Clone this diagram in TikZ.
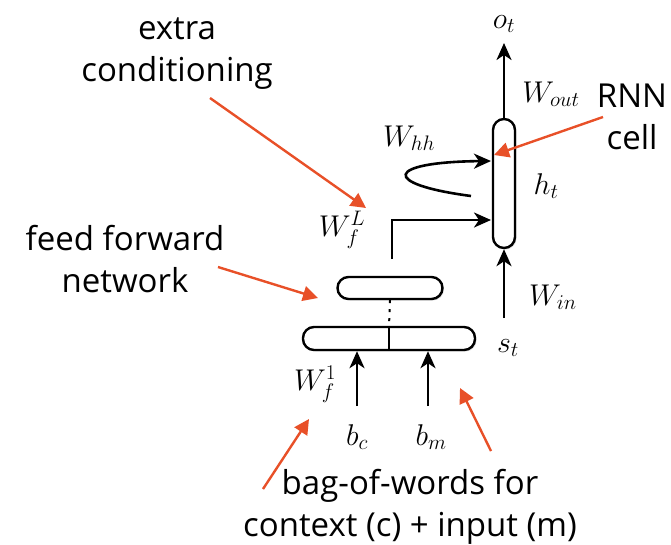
\RequirePackage{fix-cm}
\documentclass[tikz,border=0pt]{standalone}
\usepackage{amsmath}
\usepackage{fontspec}
\setsansfont{Open Sans}
\usetikzlibrary{arrows.meta,positioning,calc,shadows}
\definecolor{annot}{RGB}{232,80,40}

\begin{document}
\begin{tikzpicture}[x=1pt, y=-1pt,
  cellbox/.style={rectangle, draw=black, fill=white, line width=2.4pt,
    rounded corners=11pt, inner sep=0pt,
    drop shadow={opacity=0.25, shadow xshift=1.5pt, shadow yshift=-1.5pt}},
  arrow/.style={-{Stealth[length=17pt, width=15pt, inset=5pt]}, line width=2.6pt},
  redarrow/.style={-{Triangle[length=15pt, width=15pt]}, line width=2.4pt, draw=annot, fill=annot},
  mlabel/.style={font=\fontsize{30}{34}\selectfont, inner sep=1pt},
  note/.style={font=\sffamily\fontsize{33}{42}\selectfont, align=center, inner sep=0pt},
]
\useasboundingbox (0,0) rectangle (671,544);

%% ── RNN cell ──
\node[cellbox, minimum width=22pt, minimum height=129pt] (cell) at (504,183.5) {};
%% ── Feed forward layers ──
\node[cellbox, minimum width=105pt, minimum height=22pt] (fftop) at (390,288) {};
\node[cellbox, minimum width=172pt, minimum height=23pt] (ffbot) at (389,338.5) {};
\draw[line width=2.2pt] (ffbot.north) -- (ffbot.south);
\draw[line width=2pt, dash pattern=on 3pt off 6pt] (fftop.south) -- (ffbot.north);

%% ── Math labels ──
\node[mlabel] (ot)   at (504,24)  {$o_t$};
\node[mlabel] (wout) at (551,94)  {$W_{out}$};
\node[mlabel] (whh)  at (409,138) {$W_{hh}$};
\node[mlabel] (ht)   at (546,186) {$h_t$};
\node[mlabel] (wfl)  at (342,230) {$W_f^L$};
\node[mlabel] (win)  at (553,297) {$W_{in}$};
\node[mlabel] (st)   at (508,348) {$s_t$};
\node[mlabel] (wf1)  at (315,384) {$W_f^1$};
\node[mlabel] (bc)   at (357,437) {$b_c$};
\node[mlabel] (bm)   at (431,437) {$b_m$};

%% ── Helper coordinates ──
\coordinate (otin)   at (504,43);
\coordinate (loopa)  at (471,196);
\coordinate (hhin)   at (491,161);
\coordinate (ffout)  at (392,259);
\coordinate (ffin)   at (491,220);
\coordinate (stout)  at (504,318);
\coordinate (bcout)  at (357,406);
\coordinate (bmout)  at (428,406);

%% ── Black arrows ──
\draw[arrow] (cell.north) -- (otin);
\draw[arrow] (loopa) .. controls (380,184) and (385,162) .. (hhin);
\draw[arrow] (ffout) |- (ffin);
\draw[arrow] (stout) -- (cell.south);
\draw[arrow] (bcout) -- (bcout |- ffbot.south);
\draw[arrow] (bmout) -- (bmout |- ffbot.south);

%% ── Annotations ──
\node[note] (extra) at (177,54)  {extra\\conditioning};
\node[note] (ffn)   at (125,259) {feed forward\\network};
\node[note] (rnn)   at (632,117) {RNN\\cell};
\node[note] (bow)   at (410,507) {bag-of-words for\\context (c) + input (m)};

\coordinate (extratip) at (366,208);
\coordinate (ffntip)   at (318,298);
\coordinate (rnntip)   at (494,155);
\coordinate (bowl)     at (263,489);
\coordinate (bowltip)  at (309,419);
\coordinate (bowr)     at (491,451);
\coordinate (bowrtip)  at (460,388);

\draw[redarrow] (210,98) -- (extratip);
\draw[redarrow] (218,267) -- (ffntip);
\draw[redarrow] (603,117) -- (rnntip);
\draw[redarrow] (bowl) -- (bowltip);
\draw[redarrow] (bowr) -- (bowrtip);
\end{tikzpicture}
\end{document}
